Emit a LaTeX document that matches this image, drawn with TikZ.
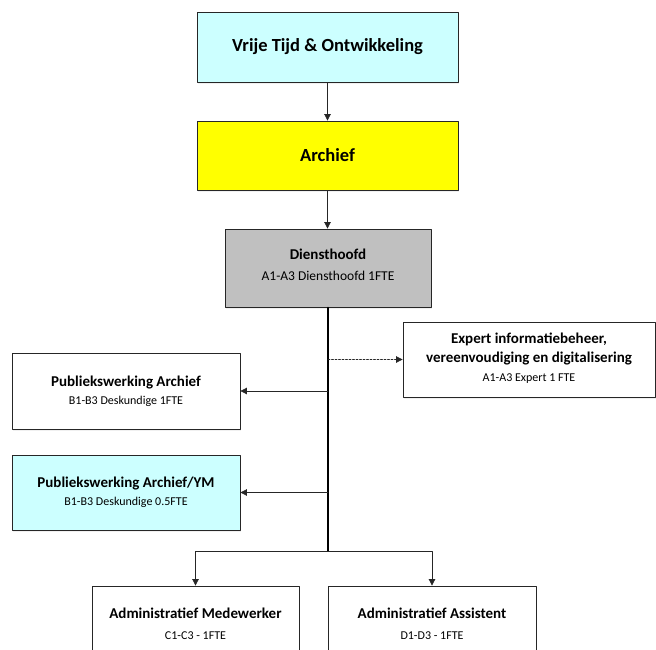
\documentclass[tikz,border=0pt]{standalone}
\usepackage{fontspec}
\setmainfont{Carlito}
\usetikzlibrary{arrows.meta,shadows}
\definecolor{lichtblauw}{RGB}{204,255,255}
\definecolor{geel}{RGB}{255,255,0}
\definecolor{grijs}{RGB}{192,192,192}
\tikzset{
	kader/.style={draw=black!85,line width=0.8pt,fill=white,align=center,inner sep=0pt,
		font=\fontsize{12}{18}\selectfont,
		drop shadow={opacity=0.12,shadow xshift=1pt,shadow yshift=-2pt}},
	titel/.style={font=\fontsize{18.5}{22}\selectfont\bfseries},
	lijn/.style={line width=0.7pt,black!85}
}
\newcommand{\kop}[1]{{\fontsize{15}{18}\selectfont\bfseries #1}}
\newcommand{\sub}[1]{{\fontsize{12}{18}\selectfont #1}}
\begin{document}
\begin{tikzpicture}[line cap=round,line join=round,>={Triangle[length=6.5pt,width=6.5pt]},x=1pt,y=-1pt]
		\useasboundingbox (0,0) rectangle (656,650);
		\clip (0,0) rectangle (656,650);
		\node[kader,titel,fill=lichtblauw,minimum width=261pt,minimum height=70pt] (vtd) at (327.5,47) {Vrije Tijd \& Ontwikkeling};
		\node[kader,titel,fill=geel,minimum width=261pt,minimum height=69pt] (arch) at (327.5,155.5) {Archief};
		\node[kader,fill=grijs,minimum width=206pt,minimum height=78pt,text depth=6pt] (dh) at (328,268) {\kop{Diensthoofd}\\[3pt]{\fontsize{13.5}{18}\selectfont A1-A3 Diensthoofd 1FTE}};
		\node[kader,minimum width=252pt,minimum height=75pt,text depth=5pt] (exp) at (529,359.5) {\kop{Expert informatiebeheer,}\\[1pt]\kop{vereenvoudiging en digitalisering}\\[1pt]\sub{A1-A3 Expert 1 FTE}};
		\node[kader,minimum width=228pt,minimum height=76pt] (pa) at (126,391) {\kop{Publiekswerking Archief}\\\sub{B1-B3 Deskundige 1FTE}};
		\node[kader,fill=lichtblauw,minimum width=228pt,minimum height=75pt] (pym) at (126,492.5) {\kop{Publiekswerking Archief/YM}\\\sub{B1-B3 Deskundige 0.5FTE}};
		\node[kader,minimum width=207pt,minimum height=76pt] (am) at (195.5,624) {\kop{Administratief Medewerker}\\[3pt]\sub{C1-C3 - 1FTE}};
		\node[kader,minimum width=208pt,minimum height=76pt] (aa) at (432,624) {\kop{Administratief Assistent}\\[3pt]\sub{D1-D3 - 1FTE}};
		\coordinate (splits) at (328,551);
		\draw[lijn,->] (vtd) -- (arch);
		\draw[lijn,->] (arch.south) -- (arch.south |- dh.north);
		\draw[line width=1.1pt] (dh.south) -- (splits);
		\draw[lijn,->,dash pattern=on 2pt off 1.5pt] (dh.south |- exp.west) -- (exp.west);
		\draw[lijn,->] (dh.south |- pa.east) -- (pa.east);
		\draw[lijn,->] (dh.south |- pym.east) -- (pym.east);
		\draw[lijn,->] (splits) -| (am.north);
		\draw[lijn,->] (splits) -| (aa.north);
	\end{tikzpicture}
\end{document}
